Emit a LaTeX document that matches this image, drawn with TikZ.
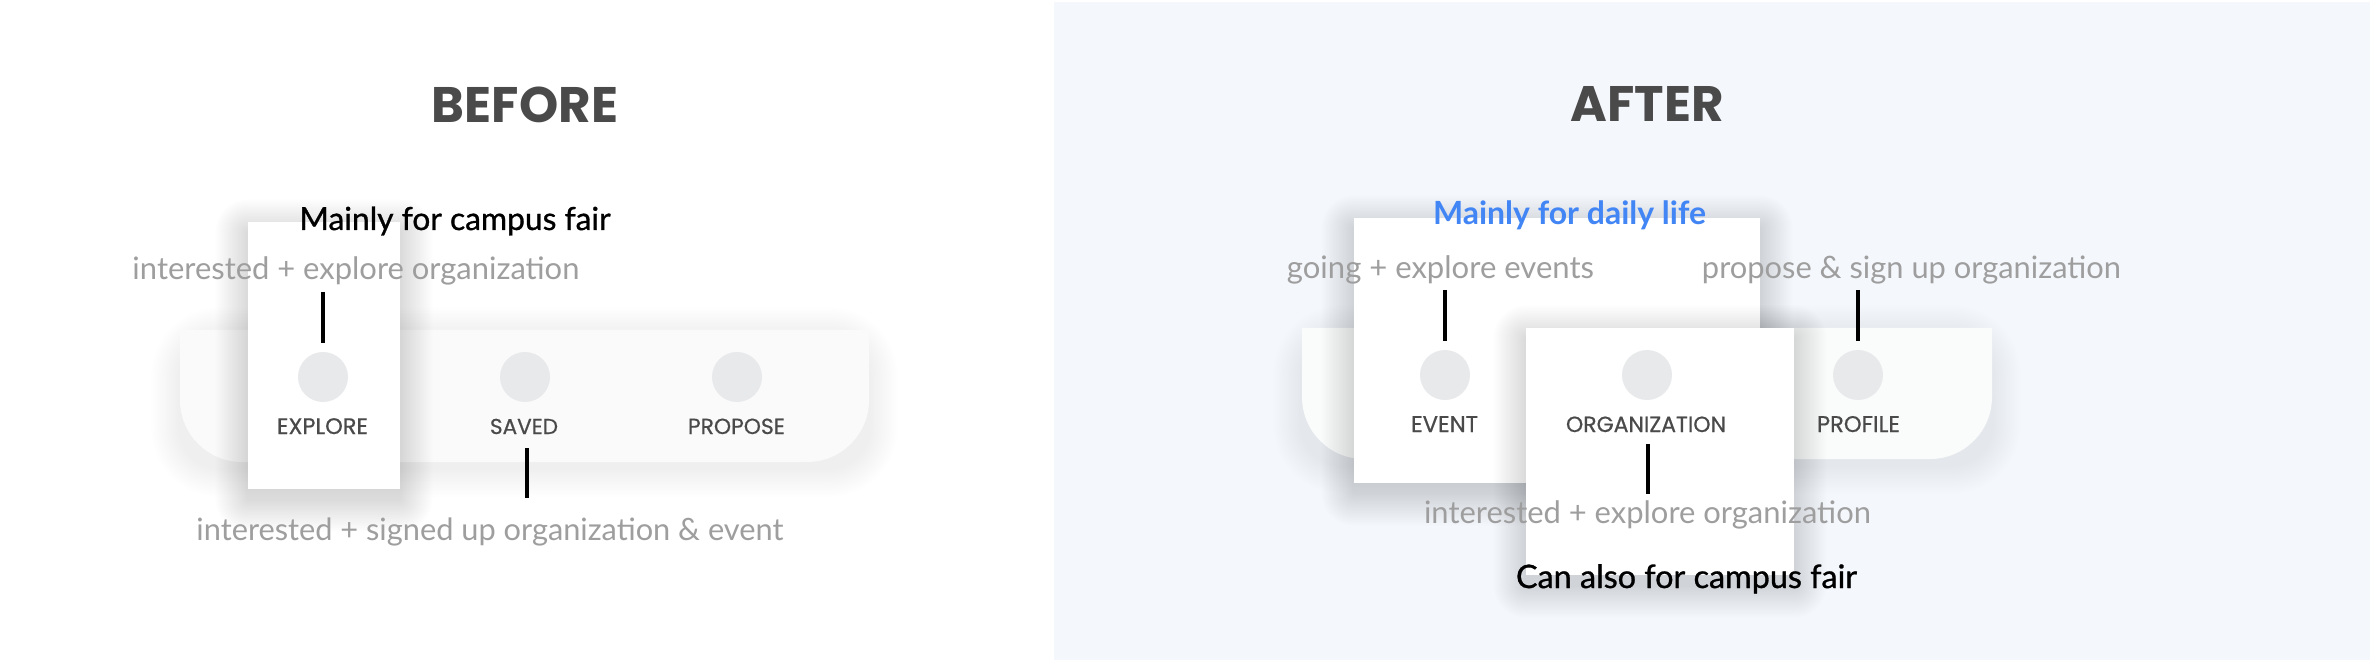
\documentclass[tikz,border=0pt]{standalone}
\usepackage{fontspec}
\usepackage{graphicx}
\setmainfont{Lato}
\newfontfamily\titlefont{Poppins}
\newfontfamily\labelfont[FakeBold=0.6]{Poppins}
\newfontfamily\medfont[FakeBold=0.9]{Lato}
\definecolor{panelblue}{HTML}{F4F7FC}
\definecolor{barfill}{HTML}{FAFAFA}
\definecolor{barfillb}{HTML}{FAFBFB}
\definecolor{dotgray}{HTML}{E8E9EB}
\definecolor{darktxt}{HTML}{4A4A4A}
\definecolor{lighttxt}{HTML}{9E9E9E}
\definecolor{gblue}{HTML}{4285F4}
\newcommand\fitw[2]{\resizebox{#1pt}{!}{#2}}
% soft shadow: x1 y1 x2 y2 corner-radius yshift opacity steps
\newcommand\softshade[8]{%
  \foreach \k in {1,...,#8}{%
    \pgfmathsetmacro\rr{#5+\k*1.8}%
    \fill[black, opacity=#7, rounded corners=\rr pt]
      ({#1-\k*1.8},{#2-\k*1.8+#6}) rectangle ({#3+\k*1.8},{#4+\k*1.8+#6});
  }}
\tikzset{
  card/.style={fill=white},
  dot/.style={circle, fill=dotgray, minimum size=50pt, inner sep=0pt},
  tablabel/.style={anchor=base, inner sep=0pt, text=darktxt, font=\labelfont},
  title/.style={anchor=base, inner sep=0pt, text=darktxt, font=\titlefont\bfseries},
  note/.style={anchor=base, inner sep=0pt, text=lighttxt},
  head/.style={anchor=base, inner sep=0pt, text=black, font=\medfont},
  bluehead/.style={anchor=base, inner sep=0pt, text=gblue, font=\bfseries},
  pin/.style={line width=4pt, black},
}
\begin{document}
\begin{tikzpicture}[x=1pt, y=-1pt]
\useasboundingbox (0,0) rectangle (2370,660);
\fill[white] (0,0) rectangle (2370,660);
\fill[panelblue] (1054,2) rectangle (2370,660);

% ---------- BEFORE ----------
\node[title] (tbefore) at (525,123) {\fitw{186}{BEFORE}};
\softshade{180}{330}{869}{462}{40}{6}{0.004}{16}
\path[fill=barfill] (180,330) -- (869,330) -- (869,400) arc[start angle=0, end angle=90, radius=62] -- (242,462) arc[start angle=90, end angle=180, radius=62] -- cycle;
\softshade{248}{222}{400}{489}{0}{10}{0.006}{18}
\path[card] (248,222) rectangle (400,489);
\node[dot] (d1) at (323,377) {};
\node[dot] (d2) at (525,377) {};
\node[dot] (d3) at (737,377) {};
\node[tablabel] (l1) at (322.5,434) {\fitw{91}{EXPLORE}};
\node[tablabel] (l2) at (524,434) {\fitw{68}{SAVED}};
\node[tablabel] (l3) at (736.5,434) {\fitw{97}{PROPOSE}};
\node[head] (h1) at (455,230) {\fitw{311}{Mainly for campus fair}};
\node[note] (n1) at (356,280) {\fitw{447}{interested + explore organization}};
\node[note] (n2) at (490,540) {\fitw{587}{interested + signed up organization \& event}};
\coordinate (p1a) at (323,292); \coordinate (p1b) at (323,343);
\coordinate (p2a) at (527,448); \coordinate (p2b) at (527,498);
\draw[pin] (p1a) -- (p1b);
\draw[pin] (p2a) -- (p2b);

% ---------- AFTER ----------
\node[title] (tafter) at (1647,122) {\fitw{153}{AFTER}};
\softshade{1302}{328}{1992}{459}{40}{6}{0.005}{16}
\path[fill=barfillb] (1302,328) -- (1992,328) -- (1992,397) arc[start angle=0, end angle=90, radius=62] -- (1364,459) arc[start angle=90, end angle=180, radius=62] -- cycle;
\softshade{1354}{218}{1760}{483}{0}{10}{0.006}{18}
\path[card] (1354,218) rectangle (1760,483);
\softshade{1526}{328}{1794}{575}{0}{10}{0.006}{18}
\path[card] (1526,328) rectangle (1794,575);
\node[dot] (e1) at (1445,375) {};
\node[dot] (e2) at (1647,375) {};
\node[dot] (e3) at (1858,375) {};
\node[tablabel] (m1) at (1444.5,432) {\fitw{67}{EVENT}};
\node[tablabel] (m2) at (1646,432) {\fitw{160}{ORGANIZATION}};
\node[tablabel] (m3) at (1858.5,432) {\fitw{83}{PROFILE}};
\node[bluehead] (h2) at (1569.5,225) {\fitw{273}{Mainly for daily life}};
\node[note] (n3) at (1440.5,279) {\fitw{307}{going + explore events}};
\node[note] (n4) at (1911.5,279) {\fitw{419}{propose \& sign up organization}};
\node[note] (n5) at (1647.5,523) {\fitw{447}{interested + explore organization}};
\node[head] (h3) at (1686.5,588) {\fitw{341}{Can also for campus fair}};
\coordinate (q1a) at (1445,290); \coordinate (q1b) at (1445,341);
\coordinate (q2a) at (1858,290); \coordinate (q2b) at (1858,341);
\coordinate (q3a) at (1648,444); \coordinate (q3b) at (1648,494);
\draw[pin] (q1a) -- (q1b);
\draw[pin] (q2a) -- (q2b);
\draw[pin] (q3a) -- (q3b);
\end{tikzpicture}
\end{document}
